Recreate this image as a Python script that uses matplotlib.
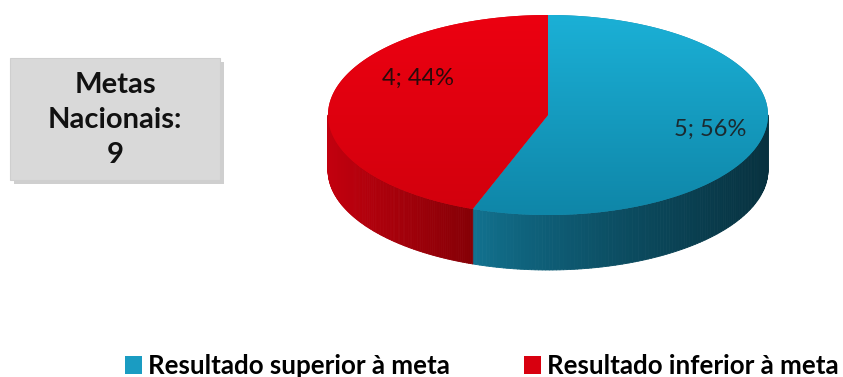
import numpy as np
import matplotlib
matplotlib.use("Agg")
import matplotlib.pyplot as plt
from matplotlib.patches import Polygon, Rectangle, Patch
from matplotlib.collections import PolyCollection
from matplotlib.colors import to_rgb

# data
labels = ["Resultado superior à meta", "Resultado inferior à meta"]
values = [5, 4]
top_colors = [("#1bb0d6", "#0f86a8"), ("#ec0011", "#d2000d")]
side_colors = [("#127391", "#07313f"), ("#c2000e", "#850006")]
legend_colors = ["#1a9cc2", "#d8000f"]
total_label = "Metas\nNacionais:\n9"

plt.rcParams['font.family'] = ['Lato', 'DejaVu Sans']

fig = plt.figure(figsize=(8.43, 3.77), dpi=100)
ax = fig.add_axes([0, 0, 1, 1])
ax.set_xlim(0, 843)
ax.set_ylim(377, 0)
ax.axis("off")

# pie geometry (pixels)
cx, cy = 548, 115
a, b = 220, 100
depth = 55

fracs = np.array(values) / sum(values)
edges = np.concatenate([[0], np.cumsum(fracs)]) * 2 * np.pi


def pt(t, dy=0):
    return cx + a * np.sin(t), cy - b * np.cos(t) + dy


def mix(c1, c2, f):
    c1, c2 = np.array(to_rgb(c1)), np.array(to_rgb(c2))
    return tuple(c1 + (c2 - c1) * f)


# side walls (visible front half)
split_x = pt(edges[1])[0]
polys, cols = [], []
for i in range(len(values)):
    t0, t1 = edges[i], edges[i + 1]
    lo, hi = max(t0, np.pi / 2), min(t1, 3 * np.pi / 2)
    if lo >= hi:
        continue
    ts = np.linspace(lo, hi, 120)
    for k in range(len(ts) - 1):
        x0, y0 = pt(ts[k])
        x1, y1 = pt(ts[k + 1])
        polys.append([(x0, y0), (x1, y1), (x1, y1 + depth), (x0, y0 + depth)])
        xm = (x0 + x1) / 2
        if i == 0:
            f = np.clip((xm - split_x) / (cx + a - split_x), 0, 1)
            cols.append(mix(side_colors[i][0], side_colors[i][1], f ** 0.8))
        else:
            f = np.clip((xm - (cx - a)) / (split_x - (cx - a)), 0, 1)
            cols.append(mix(side_colors[i][0], side_colors[i][1], f))
ax.add_collection(PolyCollection(polys, facecolors=cols, edgecolors=cols, linewidths=0.6))

# top faces with vertical gradient
for i in range(len(values)):
    ts = np.linspace(edges[i], edges[i + 1], 200)
    xs, ys = pt(ts)
    verts = [(cx, cy)] + list(zip(xs, ys))
    poly = Polygon(verts, closed=True, facecolor=top_colors[i][1], edgecolor="none")
    ax.add_patch(poly)
    grad = np.linspace(0, 1, 100)[:, None]
    c0, c1 = np.array(to_rgb(top_colors[i][0])), np.array(to_rgb(top_colors[i][1]))
    img = c0[None, None, :] + (c1 - c0)[None, None, :] * grad[:, :, None]
    im = ax.imshow(img, extent=(cx - a, cx + a, cy + b, cy - b), aspect="auto",
                   interpolation="bilinear", zorder=2)
    im.set_clip_path(poly)

# data labels
pcts = [f"{v}; {round(f * 100)}%" for v, f in zip(values, fracs)]
ax.text(710, 129, pcts[0], fontsize=17, color="#1b2a30", ha="center", va="center", zorder=3)
ax.text(418, 78, pcts[1], fontsize=17, color="#2a0a0a", ha="center", va="center", zorder=3)

# total box with shadow
ax.add_patch(Rectangle((14, 62), 210, 122, facecolor="#b0b0b0", edgecolor="none", alpha=0.6))
box = Rectangle((10, 58), 210, 122, facecolor="#d9d9d9", edgecolor="#cfcfcf", lw=0.8)
ax.add_patch(box)
ax.text(115, 120, total_label, fontsize=21, fontweight="bold", color="#111111",
        ha="center", va="center", linespacing=1.44)

# legend
handles = [Patch(facecolor=c, edgecolor="none") for c in legend_colors]
fig.legend(handles, labels, loc="center", bbox_to_anchor=(0.5715, 0.029), ncol=2,
           frameon=False, prop={"weight": "bold", "size": 18.6},
           handlelength=0.66, handleheight=0.66, handletextpad=0.2, columnspacing=2.9,
           borderpad=0, borderaxespad=0)

fig.savefig("out.png", dpi=100)
